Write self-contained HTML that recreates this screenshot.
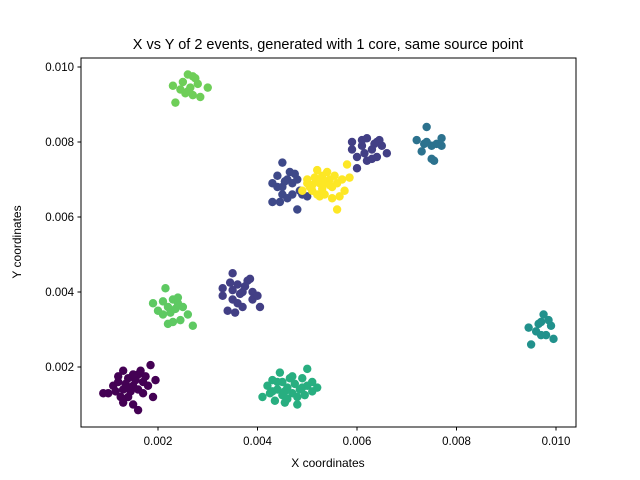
<!DOCTYPE html>
<html><head><meta charset="utf-8"><style>
body{margin:0;background:#fff}
svg{display:block;font-family:"Liberation Sans","DejaVu Sans",sans-serif}
</style></head><body>
<svg id="chart" width="640" height="480">
<rect width="640" height="480" fill="#fff"/>
<text x="328" y="49" font-size="14.5" text-anchor="middle">X vs Y of 2 events, generated with 1 core, same source point</text>
<g id="marks"></g>
<rect x="81" y="58" width="495" height="369" fill="none" stroke="#000" stroke-width="1"/>
<g id="xticks"></g>
<g id="yticks"></g>
<text x="328" y="467" font-size="12" text-anchor="middle">X coordinates</text>
<text x="21" y="242" font-size="12" text-anchor="middle" transform="rotate(-90 21 242)">Y coordinates</text>
</svg>
<script>
const xTicks=[0.002,0.004,0.006,0.008,0.010];
const xTickLabels=["0.002","0.004","0.006","0.008","0.010"];
const yTicks=[0.002,0.004,0.006,0.008,0.010];
const yTickLabels=["0.002","0.004","0.006","0.008","0.010"];
const clusterColors=["#440154","#423f85","#3e4989","#423f85","#fde725","#2c728e","#21918c","#28ae80","#5ec962","#6ece58"];
// values in units of 1e-3
const c0x=[1.0,1.1,1.2,1.3,1.3,1.4,1.4,1.5,1.5,1.6,1.6,1.7,1.8,1.9,1.95,1.85,1.6,1.3,1.2,1.45,1.55,1.7,1.35,1.65,1.15,1.75,0.9,1.25,1.5,1.4];
const c0y=[1.3,1.5,1.6,1.9,1.4,1.2,1.7,1.5,1.0,1.8,1.4,1.6,1.5,1.2,1.65,2.05,0.85,1.05,1.75,1.35,1.65,1.3,1.55,1.9,1.35,1.75,1.3,1.2,1.8,1.45];
const c1x=[3.3,3.3,3.4,3.5,3.5,3.6,3.6,3.7,3.7,3.8,3.9,3.9,4.0,4.05,3.55,3.45,3.75,3.85,3.65,3.5];
const c1y=[4.1,3.9,3.5,4.5,3.8,4.2,3.7,4.0,3.6,4.3,4.0,3.8,3.9,3.6,3.45,4.25,4.15,4.35,3.95,4.05];
const c2x=[4.3,4.3,4.4,4.5,4.5,4.5,4.6,4.6,4.7,4.7,4.8,4.8,4.85,4.9,5.0,4.55,4.65,4.4,4.75,4.45];
const c2y=[6.9,6.4,7.1,7.45,6.6,6.8,7.0,6.5,6.9,6.6,7.0,6.2,6.7,6.6,6.55,6.95,7.2,6.8,7.15,6.4];
const c3x=[5.9,5.9,6.0,6.0,6.1,6.1,6.2,6.2,6.3,6.3,6.4,6.4,6.5,6.6,6.45,6.15,6.35];
const c3y=[7.8,8.0,7.6,7.3,7.9,8.05,7.5,8.1,7.8,7.55,8.0,7.6,7.9,7.7,8.05,7.7,7.95];
const c4x=[4.9,5.0,5.0,5.1,5.1,5.15,5.2,5.2,5.25,5.3,5.3,5.35,5.4,5.4,5.45,5.5,5.5,5.55,5.6,5.6,5.7,5.75,5.8,5.85,5.65,5.05,5.25,5.35,5.45,5.2];
const c4y=[6.7,6.9,7.0,6.7,6.85,7.05,6.6,7.25,6.9,7.1,6.75,6.6,7.2,6.9,7.0,6.8,6.5,7.1,6.2,6.9,7.0,6.7,7.4,7.05,6.55,6.8,6.55,6.95,6.85,6.95];
const c5x=[7.2,7.3,7.4,7.4,7.5,7.55,7.6,7.7,7.7,7.5,7.35];
const c5y=[8.05,7.75,8.4,8.0,7.9,7.5,7.95,8.1,7.9,7.55,7.95];
const c6x=[9.45,9.5,9.6,9.7,9.75,9.8,9.85,9.9,9.95,9.7,9.65];
const c6y=[3.05,2.6,2.95,3.2,3.4,2.85,3.25,3.1,2.75,2.85,3.15];
const c7x=[4.1,4.2,4.25,4.3,4.35,4.4,4.45,4.5,4.5,4.55,4.6,4.65,4.7,4.75,4.8,4.85,4.9,4.95,5.0,5.0,5.1,5.1,5.2,4.3,4.6,4.4,4.7,4.8,4.55,4.9];
const c7y=[1.2,1.5,1.3,1.65,1.1,1.4,1.85,1.25,1.6,1.05,1.45,1.7,1.3,1.55,1.0,1.4,1.7,1.25,1.5,1.95,1.35,1.6,1.45,1.35,1.15,1.6,1.75,1.2,1.35,1.45];
const c8x=[1.9,2.0,2.1,2.1,2.15,2.2,2.2,2.3,2.3,2.35,2.4,2.45,2.5,2.6,2.7,2.25,2.4];
const c8y=[3.7,3.5,3.4,3.75,4.1,3.15,3.6,3.8,3.2,3.55,3.85,3.25,3.6,3.4,3.1,3.45,3.7];
const c9x=[2.3,2.35,2.45,2.5,2.55,2.6,2.65,2.7,2.75,2.8,2.85,2.7,3.0,2.6];
const c9y=[9.5,9.05,9.4,9.6,9.3,9.8,9.45,9.25,9.7,9.55,9.2,9.75,9.45,9.35];
const clustersX=[c0x,c1x,c2x,c3x,c4x,c5x,c6x,c7x,c8x,c9x];
const clustersY=[c0y,c1y,c2y,c3y,c4y,c5y,c6y,c7y,c8y,c9y];

const NS="http://www.w3.org/2000/svg";
function sx(v){return 58.5+v*49750;}
function sy(v){return 442-v*37500;}
const marks=document.getElementById('marks');
clustersX.forEach((xs,ci)=>{
  xs.forEach((xv,i)=>{
    const c=document.createElementNS(NS,'circle');
    c.setAttribute('cx',sx(xv*1e-3));
    c.setAttribute('cy',sy(clustersY[ci][i]*1e-3));
    c.setAttribute('r',4.2);
    c.setAttribute('fill',clusterColors[ci]);
    
    
    marks.appendChild(c);
  });
});
const xg=document.getElementById('xticks');
xTicks.forEach((t,i)=>{
  const x=sx(t);
  const l=document.createElementNS(NS,'line');
  l.setAttribute('x1',x);l.setAttribute('x2',x);l.setAttribute('y1',427);l.setAttribute('y2',430.5);l.setAttribute('stroke','#000');
  
  
  xg.appendChild(l);
  const tx=document.createElementNS(NS,'text');
  tx.setAttribute('x',x);tx.setAttribute('y',445);tx.setAttribute('font-size','11.5');tx.setAttribute('text-anchor','middle');
  tx.textContent=xTickLabels[i];
  
  
  xg.appendChild(tx);
});
const yg=document.getElementById('yticks');
yTicks.forEach((t,i)=>{
  const y=sy(t);
  const l=document.createElementNS(NS,'line');
  l.setAttribute('x1',77.5);l.setAttribute('x2',81);l.setAttribute('y1',y);l.setAttribute('y2',y);l.setAttribute('stroke','#000');
  
  
  yg.appendChild(l);
  const tx=document.createElementNS(NS,'text');
  tx.setAttribute('x',74);tx.setAttribute('y',y+4);tx.setAttribute('font-size','11.5');tx.setAttribute('text-anchor','end');
  tx.textContent=yTickLabels[i];
  
  
  yg.appendChild(tx);
});
</script>
</body></html>
